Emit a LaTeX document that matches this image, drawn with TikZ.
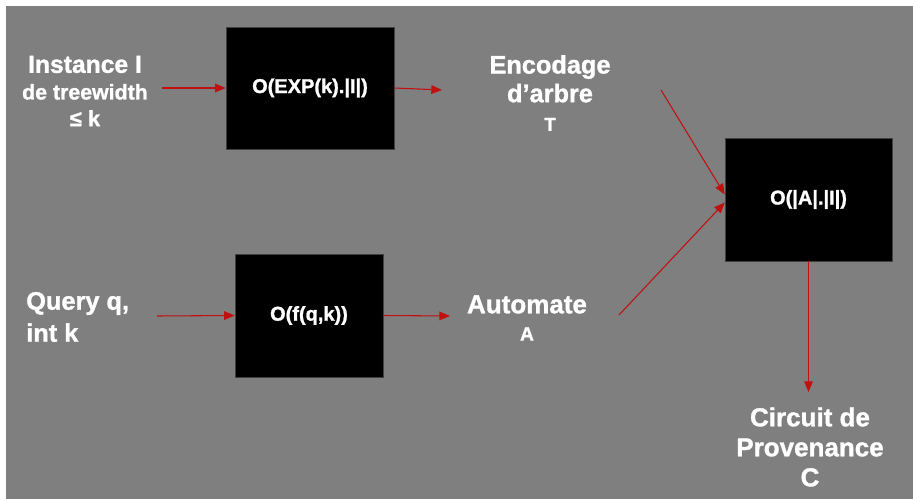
\documentclass[tikz,border=0pt]{standalone}
\usepackage{fontspec}
\setmainfont{Liberation Sans}[BoldFeatures={FakeBold=1.2}]
\usetikzlibrary{arrows.meta}
\definecolor{bggray}{RGB}{127,127,127}
\definecolor{arrred}{RGB}{192,16,16}
\tikzset{
  box/.style={fill=black, draw=black!75, line width=0.4pt, text=white, font=\bfseries\fontsize{15}{18}\selectfont, inner sep=0pt},
  txt/.style={text=white, align=center, inner sep=0pt, font=\bfseries},
  arr/.style={draw=arrred, line width=0.8pt, -{Triangle[length=8pt,width=6.5pt]}},
}
\begin{document}
\begin{tikzpicture}[x=0.75pt,y=-0.75pt]
\useasboundingbox (0,0) rectangle (913,499);
\fill[white] (0,0) rectangle (913,499);
\fill[bggray] (6,6) rectangle (913,499);

% boxes
\node[box, minimum width=126pt, minimum height=91.5pt] (b1) at (310,88) {O(EXP(k).|I|)};
\node[box, minimum width=111pt, minimum height=92.25pt] (b2) at (309,315.5) {O(f(q,k))};
\node[box, minimum width=125.25pt, minimum height=92.25pt] (b3) at (808.5,199.5) {O(|A|.|I|)};

% texts
\node[txt, font=\bfseries\fontsize{18}{20}\selectfont] (inst) at (85,91)
  {\fontsize{18.5}{20}\selectfont Instance I\\ \fontsize{16}{20}\selectfont de treewidth\\ \fontsize{16.5}{20}\selectfont ≤ k};
\node[txt, font=\bfseries\fontsize{19}{21.5}\selectfont] (enc) at (550,93)
  {\fontsize{19}{21}\selectfont Encodage\\ \fontsize{19}{21}\selectfont d’arbre\\ \fontsize{14}{21}\selectfont T};
\node[txt, align=left, anchor=west, font=\bfseries\fontsize{19}{24}\selectfont] (query) at (26,317)
  {Query q,\\int k};
\node[txt, font=\bfseries\fontsize{19.5}{20.5}\selectfont] (auto) at (527,318)
  {\fontsize{19.5}{20}\selectfont Automate\\ \fontsize{14.5}{20}\selectfont A};
\node[txt, font=\bfseries\fontsize{19.5}{22.5}\selectfont] (circ) at (810,447)
  {Circuit de\\Provenance\\C};

% free ends
\coordinate (instout) at (162,88);
\coordinate (encin) at (442,90);
\coordinate (encout) at (661,90);
\coordinate (queryout) at (157,316);
\coordinate (autoin) at (450,316);
\coordinate (autoout) at (619,315);
\coordinate (circin) at (808.5,392);

% connectors
\draw[arr] (instout) -- (b1.west);
\draw[arr] (b1.east) -- (encin);
\draw[arr] (encout) -- ([yshift=3.75pt]b3.west);
\draw[arr] (autoout) -- ([yshift=-2.25pt]b3.west);
\draw[arr] (queryout) -- (b2.west);
\draw[arr] (b2.east) -- (autoin);
\draw[arr] (b3.south) -- (circin);
\end{tikzpicture}
\end{document}
